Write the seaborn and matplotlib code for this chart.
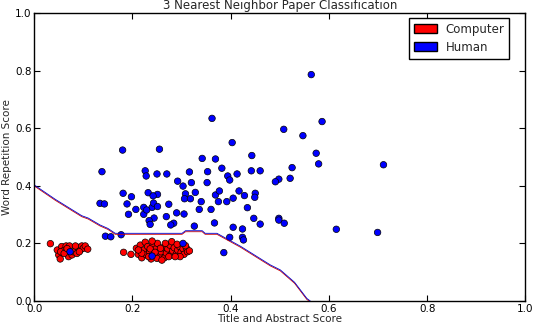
import numpy as np
import pandas as pd
import matplotlib
matplotlib.use('Agg')
import matplotlib.pyplot as plt
import matplotlib.transforms as mtransforms
from matplotlib.patches import Patch
import seaborn as sns

# veri: resimden okunan noktalar
computer_x = [0.033, 0.050, 0.053, 0.047, 0.056, 0.060, 0.065, 0.072, 0.070, 0.077,
              0.080, 0.087, 0.090, 0.094, 0.097, 0.100, 0.104, 0.109, 0.054, 0.061,
              0.084, 0.092, 0.067,
              0.182, 0.197, 0.208, 0.212, 0.219, 0.216, 0.223, 0.226, 0.228, 0.231,
              0.235, 0.238, 0.242, 0.244, 0.248, 0.251, 0.255, 0.258, 0.262, 0.265,
              0.269, 0.272, 0.276, 0.278, 0.282, 0.285, 0.289, 0.292, 0.296, 0.299,
              0.303, 0.305, 0.310, 0.312, 0.280, 0.291, 0.267, 0.240, 0.219, 0.233,
              0.250, 0.260, 0.274, 0.297, 0.212, 0.236, 0.246, 0.257, 0.287, 0.308,
              0.316]
computer_y = [0.199, 0.160, 0.146, 0.177, 0.189, 0.175, 0.191, 0.191, 0.154, 0.160,
              0.171, 0.165, 0.186, 0.177, 0.191, 0.183, 0.191, 0.180, 0.171, 0.165,
              0.191, 0.171, 0.182,
              0.169, 0.162, 0.183, 0.162, 0.150, 0.194, 0.177, 0.204, 0.160, 0.189,
              0.171, 0.146, 0.194, 0.162, 0.181, 0.200, 0.157, 0.171, 0.185, 0.150,
              0.166, 0.181, 0.194, 0.160, 0.174, 0.185, 0.162, 0.177, 0.189, 0.169,
              0.181, 0.162, 0.183, 0.171, 0.206, 0.197, 0.200, 0.208, 0.166, 0.154,
              0.148, 0.142, 0.154, 0.154, 0.177, 0.181, 0.169, 0.183, 0.154, 0.192,
              0.174]

human_x = [0.138, 0.180, 0.255, 0.362, 0.403, 0.342, 0.369, 0.443, 0.442, 0.460,
           0.382, 0.353, 0.316, 0.270, 0.250, 0.226, 0.228, 0.413, 0.394, 0.398,
           0.292, 0.303, 0.320, 0.352, 0.181, 0.134, 0.143, 0.198, 0.189, 0.232,
           0.251, 0.242, 0.308, 0.306, 0.318, 0.328, 0.340, 0.369, 0.377, 0.375,
           0.392, 0.405, 0.417, 0.428, 0.450, 0.449, 0.434, 0.274, 0.207, 0.192,
           0.223, 0.240, 0.243, 0.251, 0.336, 0.360, 0.447, 0.586, 0.508, 0.547,
           0.574, 0.579, 0.711, 0.525, 0.498, 0.491, 0.521, 0.498, 0.460, 0.498,
           0.509, 0.615, 0.699, 0.564, 0.367, 0.405, 0.424, 0.398, 0.424, 0.426,
           0.145, 0.156, 0.177, 0.303, 0.386, 0.326, 0.284, 0.278, 0.305, 0.290,
           0.269, 0.244, 0.234, 0.236, 0.223, 0.073, 0.240, 0.229]
human_y = [0.449, 0.524, 0.527, 0.634, 0.550, 0.495, 0.493, 0.505, 0.452, 0.452,
           0.461, 0.449, 0.448, 0.441, 0.441, 0.452, 0.434, 0.441, 0.434, 0.420,
           0.416, 0.399, 0.411, 0.411, 0.374, 0.339, 0.337, 0.362, 0.337, 0.376,
           0.370, 0.365, 0.372, 0.355, 0.355, 0.377, 0.345, 0.368, 0.382, 0.345,
           0.345, 0.357, 0.382, 0.366, 0.374, 0.360, 0.324, 0.336, 0.318, 0.301,
           0.325, 0.325, 0.340, 0.328, 0.318, 0.318, 0.287, 0.623, 0.596, 0.574,
           0.513, 0.476, 0.473, 0.463, 0.423, 0.414, 0.426, 0.287, 0.267, 0.281,
           0.270, 0.249, 0.238, 0.786, 0.271, 0.256, 0.250, 0.221, 0.221, 0.212,
           0.225, 0.223, 0.230, 0.200, 0.168, 0.260, 0.270, 0.264, 0.302, 0.306,
           0.293, 0.288, 0.279, 0.266, 0.301, 0.171, 0.156, 0.316]

# karar sınırı (3-NN)
sinir_x = [0.000, 0.043, 0.097, 0.110, 0.134, 0.150, 0.165, 0.301, 0.308, 0.342,
           0.348, 0.372, 0.420, 0.481, 0.501, 0.530, 0.555, 0.562]
sinir_y = [0.403, 0.353, 0.296, 0.288, 0.264, 0.252, 0.235, 0.235, 0.244, 0.244,
           0.235, 0.235, 0.190, 0.125, 0.108, 0.065, 0.009, 0.000]

df = pd.DataFrame({
    'x': computer_x + human_x,
    'y': computer_y + human_y,
    'sinif': ['Computer'] * len(computer_x) + ['Human'] * len(human_x),
})

sns.set_style('ticks')
plt.rcParams['font.family'] = ['DejaVu Sans']

fig, ax = plt.subplots(figsize=(5.34, 3.24), dpi=100)
fig.subplots_adjust(left=0.064, right=0.984, bottom=0.071, top=0.96)

kaydir = mtransforms.offset_copy(ax.transData, fig=fig, x=0, y=-1, units='dots')
ax.plot(sinir_x, sinir_y, color='#cc0000', linewidth=0.6, transform=kaydir)
ax.plot(sinir_x, sinir_y, color='#0000cc', linewidth=0.6)

sns.scatterplot(data=df, x='x', y='y', hue='sinif',
                palette={'Computer': 'red', 'Human': 'blue'},
                s=22, edgecolor='black', linewidth=0.5, legend=False, ax=ax)

ax.set_xlim(0, 1)
ax.set_ylim(0, 1)
ticks = [0.0, 0.2, 0.4, 0.6, 0.8, 1.0]
ax.set_xticks(ticks)
ax.set_yticks(ticks)
ax.set_xticklabels(['0.0', '0.2', '0.4', '0.6', '0.8', '1.0'])
ax.set_yticklabels(['0.0', '0.2', '0.4', '0.6', '0.8', '1.0'])
ax.tick_params(direction='in', length=4, width=0.8, top=True, right=True,
               labelsize=7.5, pad=2, colors='black')
for sp in ax.spines.values():
    sp.set_visible(True)
    sp.set_color('black')
    sp.set_linewidth(1.0)

ax.set_title('3 Nearest Neighbor Paper Classification', fontsize=8.5, pad=3)
ax.set_xlabel('Title and Abstract Score', fontsize=7.5, labelpad=0)
ax.set_ylabel('Word Repetition Score', fontsize=7.5, labelpad=2)

handles = [Patch(facecolor='red', edgecolor='black', label='Computer'),
           Patch(facecolor='blue', edgecolor='black', label='Human')]
ax.legend(handles=handles, loc='upper right', bbox_to_anchor=(0.967, 0.983),
          borderaxespad=0, fontsize=8.5, frameon=True, fancybox=False,
          edgecolor='black', framealpha=1, handlelength=2.0, handleheight=0.8,
          handletextpad=0.7, labelspacing=0.45, borderpad=0.4)

plt.savefig('out.png', dpi=100)
plt.close()
